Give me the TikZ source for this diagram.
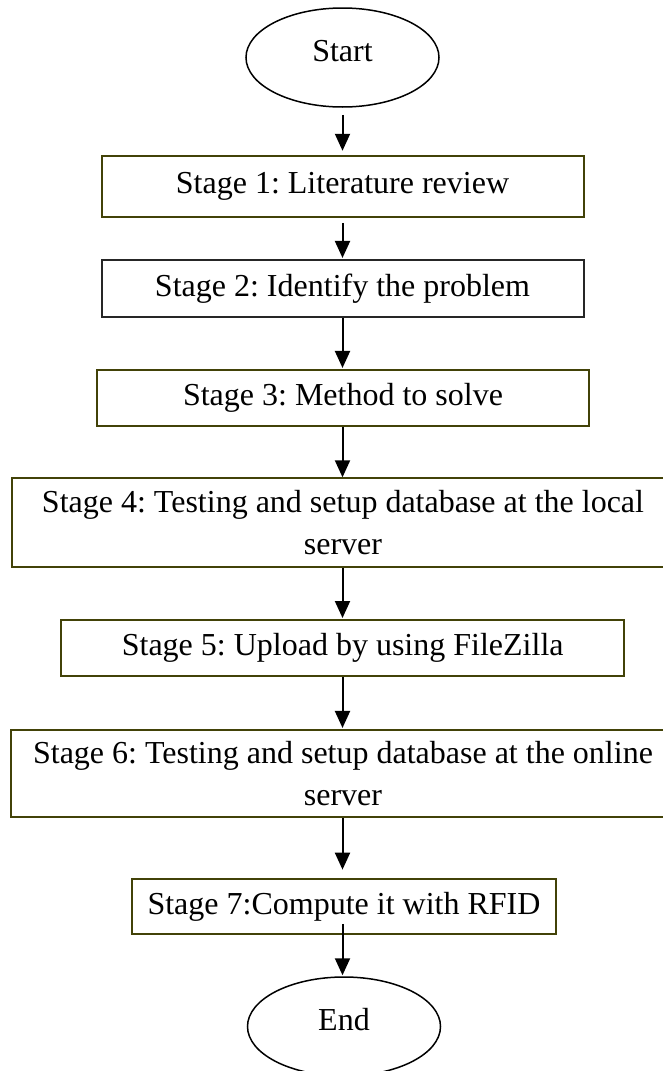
\documentclass[tikz,border=0pt]{standalone}
\usepackage{fontspec}
\setmainfont{Liberation Serif}
\frenchspacing
\usetikzlibrary{shapes.geometric,arrows.meta}
\definecolor{olivebd}{RGB}{66,66,8}
\tikzset{
  every node/.style={font=\fontsize{32}{42}\selectfont\frenchspacing, inner sep=0pt},
  terminal/.style={draw=black, line width=1.5pt, ellipse, minimum width=193pt, minimum height=99pt, text depth=14pt},
  stagebox/.style={draw=olivebd, line width=2pt, rectangle, align=center},
  arr/.style={draw=black, line width=2pt, -{Triangle[width=15pt,length=17pt]}}
}
\begin{document}
\begin{tikzpicture}[x=1pt,y=-1pt]
\useasboundingbox (0,0) rectangle (663,1071);
\node[terminal] (start) at (342.5,57.5) {Start};
\node[stagebox, minimum width=482pt, minimum height=61.3pt] (s1) at (342.5,186.4) {Stage 1: Literature review};
\node[stagebox, draw=black!85, minimum width=482pt, minimum height=56.7pt] (s2) at (342.5,288.3) {Stage 2: Identify the problem};
\node[stagebox, minimum width=491.7pt, minimum height=55.7pt] (s3) at (343,397.8) {Stage 3: Method to solve};
\node[stagebox, minimum width=662pt, minimum height=88.4pt] (s4) at (343,522.5) {Stage 4: Testing and setup database at the local\\server};
\node[stagebox, minimum width=562.7pt, minimum height=56pt] (s5) at (342.7,648) {Stage 5: Upload by using FileZilla};
\node[stagebox, minimum width=664pt, minimum height=87.5pt] (s6) at (343,773.7) {Stage 6: Testing and setup database at the online\\server};
\node[stagebox, minimum width=423.7pt, minimum height=54.7pt] (s7) at (344,906.6) {Stage 7:Compute it with RFID};
\node[terminal] (end) at (344,1026.5) {End};

\draw[arr, shorten <=7pt, shorten >=4pt] (start.south) -- (s1.north -| start.south);
\draw[arr, shorten <=4.7pt, shorten >=1pt] (s1.south -| start.south) -- (s2.north -| start.south);
\draw[arr, shorten >=1pt] (s2.south -| start.south) -- (s3.north -| start.south);
\draw[arr] (s3.south -| start.south) -- (s4.north -| start.south);
\draw[arr, shorten >=1pt] (s4.south -| start.south) -- (s5.north -| start.south);
\draw[arr, shorten >=1pt] (s5.south -| start.south) -- (s6.north -| start.south);
\draw[arr, shorten >=8.6pt] (s6.south -| start.south) -- (s7.north -| start.south);
\draw[arr, shorten <=-11pt, shorten >=1pt] (s7.south -| start.south) -- (end.north -| start.south);
\end{tikzpicture}
\end{document}
